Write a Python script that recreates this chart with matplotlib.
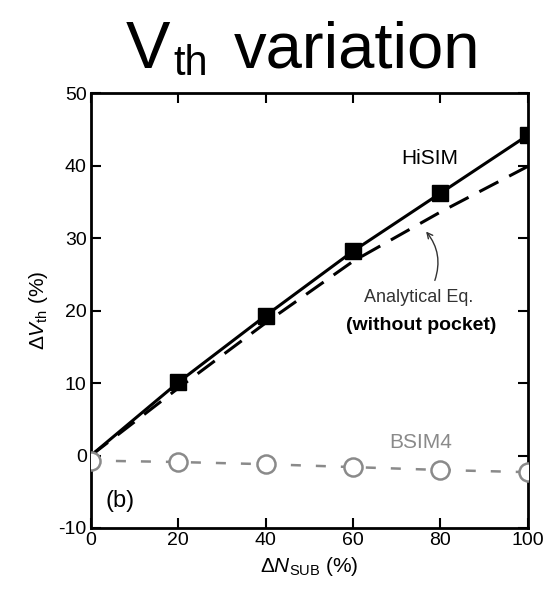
import matplotlib
matplotlib.use("Agg")
import matplotlib.pyplot as plt

plt.rcParams['font.family'] = ['Liberation Sans', 'DejaVu Sans']
plt.rcParams['mathtext.fontset'] = 'custom'
plt.rcParams['mathtext.rm'] = 'Liberation Sans'
plt.rcParams['mathtext.it'] = 'Liberation Sans:italic'
plt.rcParams['axes.unicode_minus'] = False

# data
n_sub = [0, 20, 40, 60, 80, 100]
hisim = [0, 10.1, 19.3, 28.2, 36.2, 44.2]
analytical = [0, 9.3, 18.3, 26.8, 33.6, 39.9]
bsim4 = [-0.7, -0.9, -1.2, -1.6, -2.0, -2.3]

xticks = [0, 20, 40, 60, 80, 100]
yticks = [-10, 0, 10, 20, 30, 40, 50]

fig = plt.figure(figsize=(5.51, 6.01), dpi=100)
ax = fig.add_axes([0.165, 0.1215, 0.793, 0.7235])

# analytical eq. (dashed, black)
ax.plot(n_sub, analytical, color='black', lw=2.2, dashes=(7, 4), zorder=2)
# HiSIM (solid, filled squares)
ax.plot(n_sub, hisim, color='black', lw=2.2, marker='s', ms=11,
        markevery=[1, 2, 3, 4, 5], zorder=3)
# BSIM4 (gray dashed, open circles)
ax.plot(n_sub, bsim4, color='#8a8a8a', lw=1.8, dashes=(4, 6), marker='o',
        ms=13, mfc='white', mec='#8a8a8a', mew=1.8, zorder=4)

ax.set_xlim(0, 100)
ax.set_ylim(-10, 50)
ax.set_xticks(xticks)
ax.set_yticks(yticks)
ax.tick_params(direction='in', length=7, width=1.5, top=True, right=True,
               labelsize=14, pad=3)
for s in ax.spines.values():
    s.set_linewidth(2)

ax.set_xlabel(r'$\Delta\mathit{N}_{\rm SUB}$ (%)', fontsize=15, labelpad=4)
ax.set_ylabel(r'$\Delta\mathit{V}_{\rm th}$ (%)', fontsize=15, labelpad=6)

ax.text(77.5, 41, 'HiSIM', fontsize=15, ha='center', va='center')
ax.text(75, 21.8, 'Analytical Eq.', fontsize=13, ha='center', va='center',
        color='#333333')
ax.text(75.5, 17.9, '(without pocket)', fontsize=14, ha='center',
        va='center', fontweight='bold')
ax.annotate('', xy=(76.3, 31.2), xytext=(78.5, 23.8),
            arrowprops=dict(arrowstyle='->', color='#333333', lw=1,
                            connectionstyle='arc3,rad=0.3'))
ax.text(75.5, 1.8, 'BSIM4', fontsize=15, ha='center', va='center',
        color='#8a8a8a')
ax.text(6.6, -6.3, '(b)', fontsize=17, ha='center', va='center')

# title: V, subscript th, variation
fig.text(0.228, 0.887, 'V', fontsize=48, va='baseline')
fig.text(0.314, 0.875, 'th', fontsize=30, va='baseline')
fig.text(0.424, 0.887, 'variation', fontsize=47, va='baseline')

fig.savefig('out.png', dpi=100)
